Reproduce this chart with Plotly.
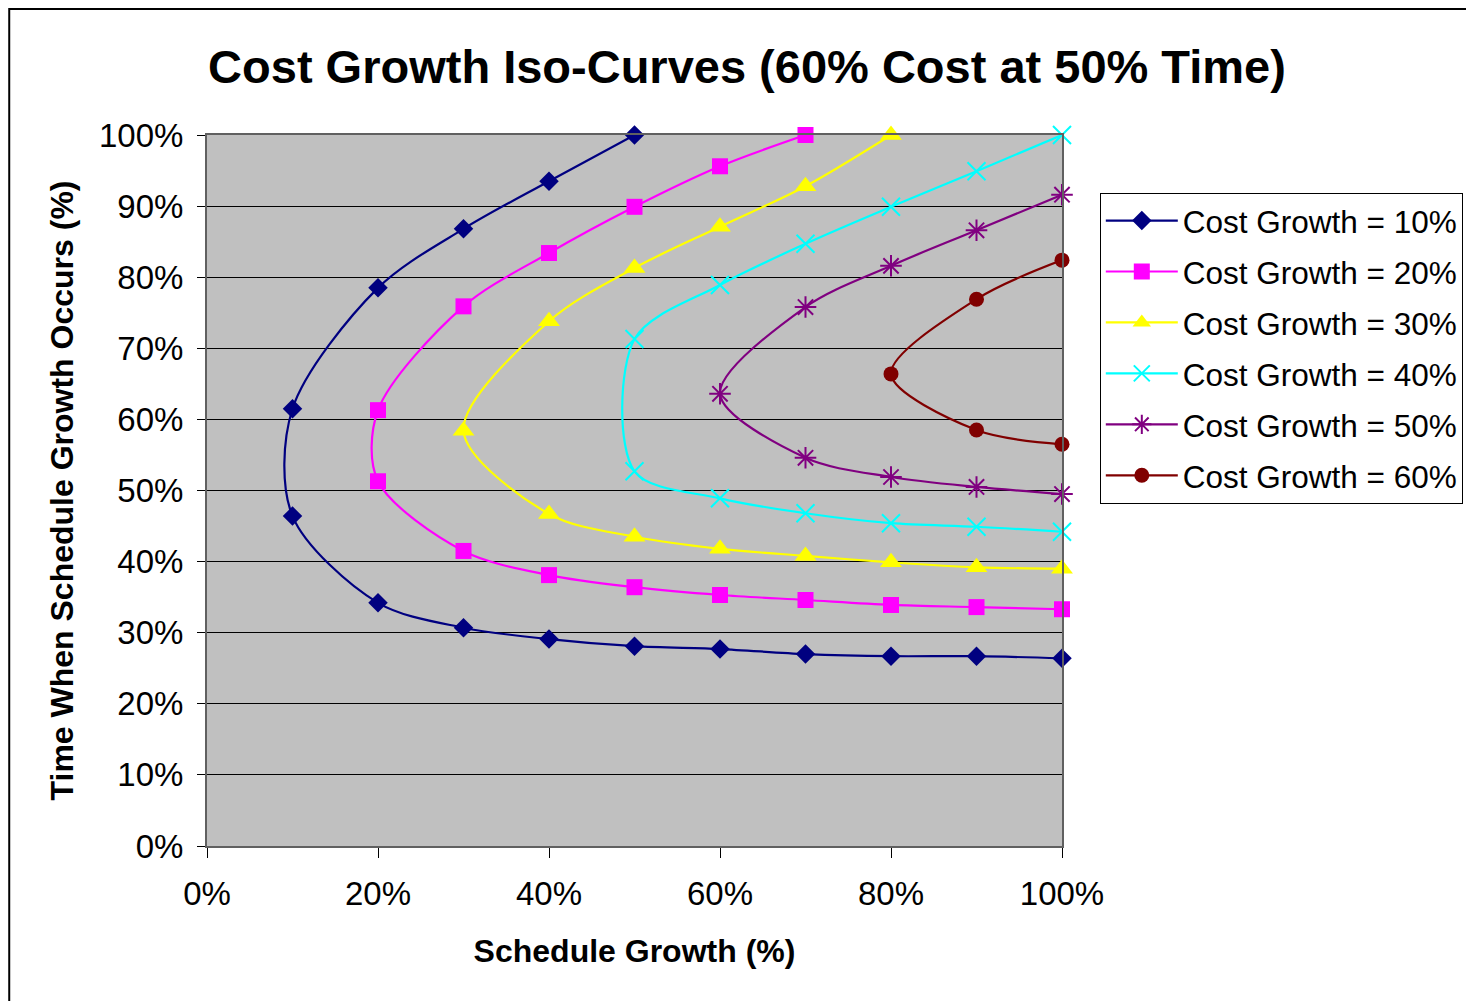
import plotly.graph_objects as go

# Schedule growth (%) and time when schedule growth occurs (%) for each cost-growth iso-curve
cg10_x = [50, 40, 30, 20, 10, 10, 20, 30, 40, 50, 60, 70, 80, 90, 100]
cg10_y = [100, 93.5, 86.8, 78.5, 61.5, 46.4, 34.2, 30.7, 29.1, 28.1, 27.7, 27.0, 26.7, 26.7, 26.4]

cg20_x = [70, 60, 50, 40, 30, 20, 20, 30, 40, 50, 60, 70, 80, 90, 100]
cg20_y = [100, 95.6, 89.9, 83.4, 75.9, 61.3, 51.3, 41.5, 38.1, 36.4, 35.3, 34.6, 33.9, 33.6, 33.3]

cg30_x = [80, 70, 60, 50, 40, 30, 40, 50, 60, 70, 80, 90, 100]
cg30_y = [100, 92.8, 87.1, 81.3, 73.8, 58.4, 46.7, 43.5, 41.8, 40.8, 39.9, 39.2, 39.0]

cg40_x = [100, 90, 80, 70, 60, 50, 50, 60, 70, 80, 90, 100]
cg40_y = [100, 94.9, 89.9, 84.7, 78.9, 71.3, 52.7, 48.9, 46.8, 45.4, 44.9, 44.2]

cg50_x = [100, 90, 80, 70, 60, 70, 80, 90, 100]
cg50_y = [91.6, 86.6, 81.6, 75.8, 63.6, 54.6, 51.9, 50.5, 49.5]

cg60_x = [100, 90, 80, 90, 100]
cg60_y = [82.4, 76.9, 66.4, 58.5, 56.5]

series_names = ["Cost Growth = 10%", "Cost Growth = 20%", "Cost Growth = 30%",
                "Cost Growth = 40%", "Cost Growth = 50%", "Cost Growth = 60%"]
series_x = [cg10_x, cg20_x, cg30_x, cg40_x, cg50_x, cg60_x]
series_y = [cg10_y, cg20_y, cg30_y, cg40_y, cg50_y, cg60_y]
colors = ["#000080", "#FF00FF", "#FFFF00", "#00FFFF", "#800080", "#800000"]
symbols = ["diamond", "square", "triangle-up", "x-thin-open", "asterisk-open", "circle"]
sizes = [15, 16, 19, 18, 18, 15]

tick_vals_y = list(range(0, 101, 10))
tick_vals_x = list(range(0, 101, 20))
tick_text_y = ["%d%%" % v for v in tick_vals_y]
tick_text_x = ["%d%%" % v for v in tick_vals_x]

FONT = "Arial, 'Liberation Sans', sans-serif"

fig = go.Figure()
for i in range(6):
    fig.add_trace(go.Scatter(
        x=series_x[i], y=series_y[i], name=series_names[i],
        mode="lines+markers",
        line=dict(color=colors[i], width=2.2, shape="spline", smoothing=0.9),
        marker=dict(symbol=symbols[i], size=sizes[i], color=colors[i],
                    line=dict(color=colors[i], width=2 if i in (3, 4) else 0)),
        legendgroup="g%d" % i,
        cliponaxis=False,
    ))

# page body has an 8px margin, so the figure is sized/positioned to compensate
W, H = 1466, 993
fig.update_layout(
    width=W, height=H,
    margin=dict(l=199, r=W - 199 - 856, t=127, b=H - 127 - 711),
    paper_bgcolor="white",
    plot_bgcolor="#C0C0C0",
    font=dict(family=FONT, color="black"),
    title=dict(text="<b>Cost Growth Iso-Curves (60% Cost at 50% Time)</b>",
               x=739 / W, xanchor="center", y=1 - 59 / H, yanchor="middle",
               yref="container", font=dict(size=47, family=FONT, color="black")),
    showlegend=True,
    legend=dict(x=1.043, xanchor="left", y=0.919, yanchor="top",
                bgcolor="white", bordercolor="black", borderwidth=1,
                font=dict(size=31.5, family=FONT, color="black"),
                tracegroupgap=7, traceorder="grouped", itemwidth=72),
)

fig.update_xaxes(
    range=[0, 100], tickvals=tick_vals_x, ticktext=tick_text_x,
    showgrid=False, zeroline=False,
    showline=True, linecolor="#606060", linewidth=2, mirror=True,
    ticks="outside", ticklen=10, tickcolor="black", tickwidth=1,
    ticklabelstandoff=7,
    tickfont=dict(size=33, family=FONT, color="black"),
    title=dict(text="<b>Schedule Growth (%)</b>", standoff=29,
               font=dict(size=32, family=FONT, color="black")),
)
fig.update_yaxes(
    range=[0, 100], tickvals=tick_vals_y, ticktext=tick_text_y,
    showgrid=True, gridcolor="black", gridwidth=1, zeroline=False,
    showline=True, linecolor="#606060", linewidth=2, mirror=True,
    ticks="outside", ticklen=8, tickcolor="black", tickwidth=1,
    ticklabelstandoff=7,
    tickfont=dict(size=33, family=FONT, color="black"),
    title=dict(text="<b>Time When Schedule Growth Occurs (%)</b>", standoff=16,
               font=dict(size=32, family=FONT, color="black")),
)

# outer chart border
fig.add_shape(type="rect", xref="paper", yref="paper",
              x0=(1 - 199) / 856, x1=(1480 - 199) / 856,
              y0=(838 - 1010) / 711, y1=(838 - 1) / 711,
              line=dict(color="black", width=2), fillcolor="rgba(0,0,0,0)", layer="below")

fig.write_html("out.html")
